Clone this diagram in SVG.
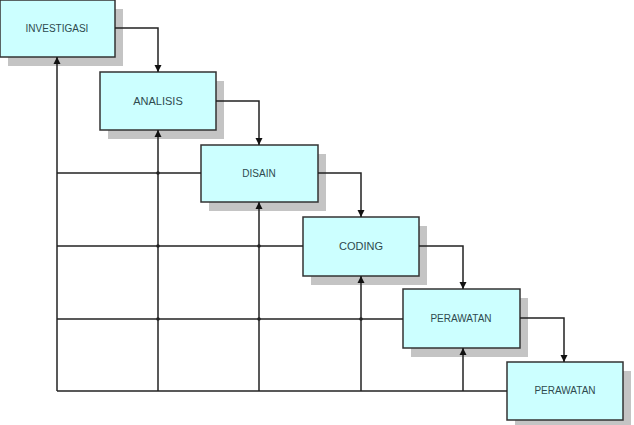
<svg xmlns="http://www.w3.org/2000/svg" width="634" height="425" viewBox="0 0 634 425">
<defs>
<marker id="ah" viewBox="0 0 10 10" refX="10" refY="5" markerWidth="7" markerHeight="9" markerUnits="userSpaceOnUse" orient="auto">
<path d="M0,0 L10,5 L0,10 Z" fill="#111"/>
</marker>
</defs>
<style>
.shadow{fill:#c4c4c4}
.box{fill:#ccffff;stroke:#333;stroke-width:1.5}
.lbl{font-family:"Liberation Sans",Arial,sans-serif;font-size:10px;fill:#2e4a4e;text-anchor:middle;dominant-baseline:central}
.ln{fill:none;stroke:#222;stroke-width:1.5}
.arr{fill:none;stroke:#222;stroke-width:1.5;marker-end:url(#ah)}
.dot{fill:#222}
</style>
<rect width="634" height="425" fill="#fff"/>
<g id="investigasi">
<rect class="shadow" x="8" y="9" width="115" height="57"/>
<rect class="box" x="0" y="0" width="115" height="57"/>
<text class="lbl" x="57" y="28">INVESTIGASI</text>
</g>
<g id="analisis">
<rect class="shadow" x="108" y="81" width="116" height="58"/>
<rect class="box" x="100" y="72" width="116" height="58"/>
<text class="lbl" x="158" y="101" style="font-size:11px">ANALISIS</text>
</g>
<g id="disain">
<rect class="shadow" x="209" y="154" width="117" height="57"/>
<rect class="box" x="201" y="145" width="117" height="57"/>
<text class="lbl" x="259" y="173">DISAIN</text>
</g>
<g id="coding">
<rect class="shadow" x="311" y="226" width="116" height="59"/>
<rect class="box" x="303" y="217" width="116" height="59"/>
<text class="lbl" x="361" y="246" style="font-size:11px">CODING</text>
</g>
<g id="perawatan1">
<rect class="shadow" x="411" y="298" width="117" height="59"/>
<rect class="box" x="403" y="289" width="117" height="59"/>
<text class="lbl" x="461" y="318">PERAWATAN</text>
</g>
<g id="perawatan2">
<rect class="shadow" x="515" y="371" width="116" height="58"/>
<rect class="box" x="507" y="362" width="116" height="58"/>
<text class="lbl" x="565" y="390">PERAWATAN</text>
</g>
<g id="connectors">
<path class="arr" d="M115,28 H158 V72"/>
<path class="arr" d="M216,101 H259 V145"/>
<path class="arr" d="M318,173 H361 V217"/>
<path class="arr" d="M419,246 H463 V289"/>
<path class="arr" d="M520,318 H564 V362"/>
<path class="ln" d="M57,391 H507"/>
<path class="ln" d="M57,173 H201"/>
<path class="ln" d="M57,246 H303"/>
<path class="ln" d="M57,319 H403"/>
<path class="arr" d="M57,391 V57"/>
<path class="arr" d="M158,391 V130"/>
<path class="arr" d="M259,391 V202"/>
<path class="arr" d="M361,391 V276"/>
<path class="arr" d="M463,391 V348"/>
<circle class="dot" cx="158" cy="173" r="1.8"/>
<circle class="dot" cx="158" cy="246" r="1.8"/>
<circle class="dot" cx="259" cy="246" r="1.8"/>
<circle class="dot" cx="158" cy="319" r="1.8"/>
<circle class="dot" cx="259" cy="319" r="1.8"/>
<circle class="dot" cx="361" cy="319" r="1.8"/>
</g>
</svg>
